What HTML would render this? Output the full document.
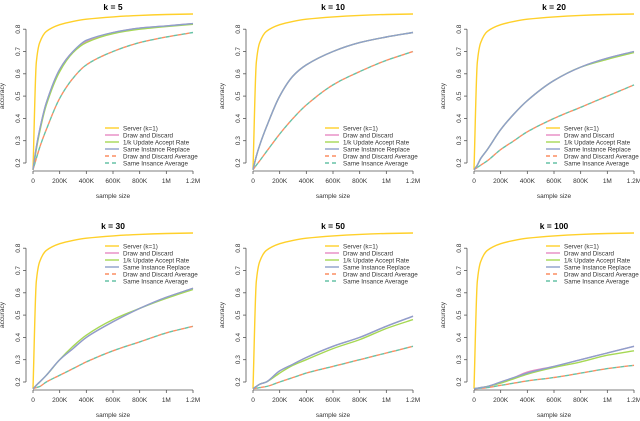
<!DOCTYPE html>
<html><head><meta charset="utf-8"><style>
body{margin:0;background:#fff}
svg{display:block;font-family:"Liberation Sans",sans-serif}
</style></head><body>
<svg id="c" width="640" height="421"></svg>
<script>
const xs=[0,25,50,100,200,300,400,600,800,1000,1200];
const titles=["k = 5","k = 10","k = 20","k = 30","k = 50","k = 100"];
const server=[0.17,0.65,0.74,0.79,0.82,0.835,0.845,0.855,0.862,0.866,0.868];
const drawDiscard=[
[0.17,0.27,0.35,0.47,0.62,0.70,0.745,0.785,0.805,0.815,0.825],
[0.17,0.23,0.28,0.36,0.50,0.59,0.64,0.70,0.74,0.765,0.785],
[0.17,0.19,0.22,0.26,0.35,0.42,0.48,0.57,0.63,0.67,0.70],
[0.17,0.185,0.20,0.23,0.30,0.35,0.40,0.47,0.53,0.58,0.62],
[0.17,0.18,0.19,0.20,0.25,0.28,0.31,0.36,0.40,0.45,0.495],
[0.17,0.172,0.175,0.18,0.20,0.22,0.245,0.27,0.30,0.33,0.36]];
const acceptRate=[
[0.17,0.26,0.34,0.46,0.61,0.695,0.74,0.78,0.80,0.812,0.822],
[0.17,0.23,0.28,0.36,0.50,0.59,0.64,0.70,0.74,0.765,0.785],
[0.17,0.19,0.22,0.26,0.35,0.42,0.48,0.57,0.63,0.665,0.695],
[0.17,0.185,0.20,0.23,0.30,0.36,0.41,0.48,0.53,0.575,0.615],
[0.17,0.18,0.19,0.20,0.24,0.275,0.30,0.35,0.39,0.44,0.48],
[0.17,0.172,0.175,0.18,0.195,0.215,0.235,0.265,0.29,0.32,0.34]];
const sameReplace=[
[0.17,0.27,0.35,0.47,0.62,0.70,0.75,0.785,0.805,0.815,0.825],
[0.17,0.23,0.28,0.36,0.50,0.59,0.64,0.70,0.74,0.765,0.785],
[0.17,0.19,0.22,0.26,0.35,0.42,0.48,0.57,0.63,0.67,0.70],
[0.17,0.185,0.20,0.23,0.30,0.35,0.40,0.47,0.53,0.58,0.62],
[0.17,0.18,0.19,0.20,0.25,0.28,0.31,0.36,0.40,0.45,0.495],
[0.17,0.172,0.175,0.18,0.20,0.22,0.24,0.27,0.30,0.33,0.36]];
const ddAvg=[
[0.17,0.22,0.27,0.35,0.49,0.58,0.64,0.70,0.74,0.765,0.785],
[0.17,0.19,0.21,0.25,0.33,0.40,0.46,0.55,0.61,0.66,0.70],
[0.17,0.18,0.19,0.21,0.26,0.30,0.34,0.40,0.45,0.50,0.55],
[0.17,0.175,0.18,0.20,0.23,0.26,0.29,0.34,0.38,0.42,0.45],
[0.17,0.172,0.175,0.18,0.20,0.22,0.24,0.27,0.30,0.33,0.36],
[0.17,0.171,0.172,0.175,0.185,0.195,0.205,0.22,0.24,0.26,0.275]];
const yTicks=[0.2,0.3,0.4,0.5,0.6,0.7,0.8];
const xTicks=[0,200,400,600,800,1000,1200];
const xTickLabels=["0","200K","400K","600K","800K","1M","1.2M"];
const legendLabels=["Server (k=1)","Draw and Discard","1/k Update Accept Rate","Same Instance Replace","Draw and Discard Average","Same Insance Average"];
const colors=["#FFD02A","#E78AC3","#A6D854","#8DA0CB","#FC8D62","#66C2A5"];
const NS="http://www.w3.org/2000/svg";
const svg=document.getElementById('c');
function mk(t,a,p){const e=document.createElementNS(NS,t);for(const k in a)e.setAttribute(k,a[k]);(p||svg).appendChild(e);return e;}
function smooth(P){
  // monotone cubic (Fritsch-Carlson) in pixel space
  const n=P.length,d=[],m=[];
  for(let i=0;i<n-1;i++)d.push((P[i+1][1]-P[i][1])/(P[i+1][0]-P[i][0]));
  m[0]=d[0];m[n-1]=d[n-2];
  for(let i=1;i<n-1;i++)m[i]=(d[i-1]*d[i]<=0)?0:2/(1/d[i-1]+1/d[i]);
  let s='M'+P[0][0].toFixed(1)+','+P[0][1].toFixed(1);
  for(let i=0;i<n-1;i++){const h=(P[i+1][0]-P[i][0])/3;
    s+=' C'+(P[i][0]+h).toFixed(1)+','+(P[i][1]+m[i]*h).toFixed(1)+' '+(P[i+1][0]-h).toFixed(1)+','+(P[i+1][1]-m[i+1]*h).toFixed(1)+' '+P[i+1][0].toFixed(1)+','+P[i+1][1].toFixed(1);}
  return s;
}
const colX=[33,253,474], rowY=[0,219];
for(let i=0;i<6;i++){
  const ox=colX[i%3], oy=rowY[Math.floor(i/3)];
  const X=v=>ox+v/1200*160, Y=v=>oy+163-(v-0.2)*223;
  const g=mk('g',{});
  
  
  const t=mk('text',{x:ox+80,y:oy+10,'text-anchor':'middle','font-size':'8.5','font-weight':'bold',fill:'#000'},g);t.textContent=titles[i];
  
  const ax=ox-7;
  mk('line',{x1:ax,x2:ax,y1:Y(0.2),y2:Y(0.8),stroke:'#555','stroke-width':0.8},g);
  yTicks.forEach(v=>{mk('line',{x1:ax-3,x2:ax,y1:Y(v),y2:Y(v),stroke:'#555','stroke-width':0.8},g);
    const l=mk('text',{x:0,y:0,transform:`translate(${ax-6},${Y(v)}) rotate(-90)`,'text-anchor':'middle','font-size':'6.5',fill:'#333'},g);l.textContent=v.toFixed(1);
    });
  const bY=oy+171;
  mk('line',{x1:X(0),x2:X(1200),y1:bY,y2:bY,stroke:'#555','stroke-width':0.8},g);
  xTicks.forEach((v,j)=>{mk('line',{x1:X(v),x2:X(v),y1:bY,y2:bY+3,stroke:'#555','stroke-width':0.8},g);
    const l=mk('text',{x:X(v),y:bY+12,'text-anchor':'middle','font-size':'6.5',fill:'#333'},g);l.textContent=xTickLabels[j];
    });
  const xl=mk('text',{x:ox+80,y:oy+198,'text-anchor':'middle','font-size':'6.5',fill:'#333'},g);xl.textContent='sample size';
  
  const yl=mk('text',{x:0,y:0,transform:`translate(${ox-29},${oy+96}) rotate(-90)`,'text-anchor':'middle','font-size':'6.5',fill:'#333'},g);yl.textContent='accuracy';
  
  const series=[server,drawDiscard[i],acceptRate[i],sameReplace[i],ddAvg[i],ddAvg[i]];
  const names=['server','draw-discard','accept-rate','same-replace','dd-average','same-average'];
  [0,4,5,1,2,3].forEach(s=>{
    const P=series[s].map((v,j)=>[X(xs[j]),Y(v)]);
    const a={d:smooth(P),fill:'none',stroke:colors[s],'stroke-width':1.4,'stroke-linejoin':'round'};
    if(s==4)a['stroke-dasharray']='4,4';
    if(s==5){a['stroke-dasharray']='4,4';a['stroke-dashoffset']='4';}
    const p=mk('path',a,g);
    
  });
  const lx=ox+72, ly=(i<3)?oy+128:oy+27;
  legendLabels.forEach((lab,s)=>{
    const yy=ly+s*7;
    const a={x1:lx,x2:lx+14,y1:yy,y2:yy,stroke:colors[s],'stroke-width':1.4};
    if(s>=4)a['stroke-dasharray']='4,3';
    mk('line',a,g);
    const tt=mk('text',{x:lx+18,y:yy+2.3,'font-size':'6.3',fill:'#333'},g);tt.textContent=lab;
    
  });
}
</script>
</body></html>
